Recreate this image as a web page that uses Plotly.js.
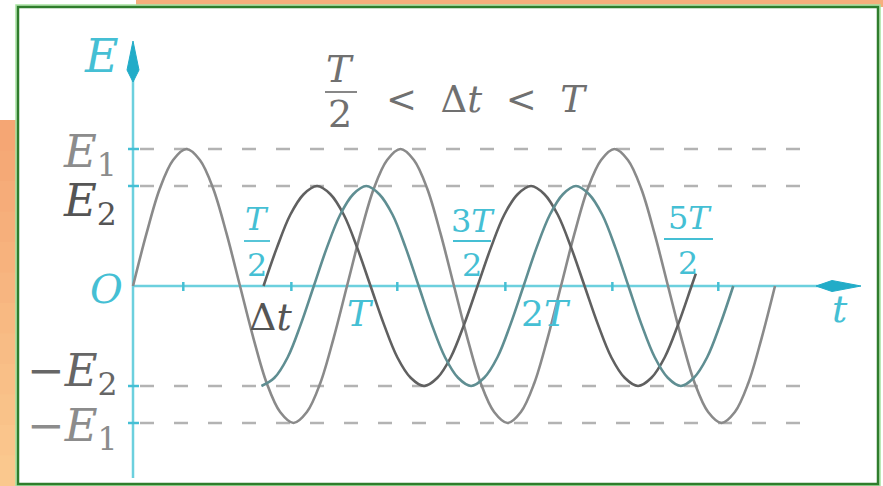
<!DOCTYPE html>
<html>
<head>
<meta charset="utf-8">
<script src="https://cdn.plot.ly/plotly-3.0.1.min.js"></script>
<style>
  html, body { margin: 0; padding: 0; background: #ffffff; overflow: hidden; }
  #chart { width: 883px; height: 486px; }
</style>
</head>
<body>
<div id="chart"></div>
<script>
// ---- Data: time in periods T, EMF in units of E1 ----
const levelNames  = ['E1', 'E2', '-E2', '-E1'];
const levelValues = [1, 0.73, -0.73, -1];

// first EMF, amplitude E1, starting at t = 0
const waveE1_t = [0, 0.0625, 0.125, 0.1875, 0.25, 0.3125, 0.375, 0.4375,
                  0.5, 0.5625, 0.625, 0.6875, 0.75, 0.8125, 0.875, 0.9375,
                  1, 1.0625, 1.125, 1.1875, 1.25, 1.3125, 1.375, 1.4375,
                  1.5, 1.5625, 1.625, 1.6875, 1.75, 1.8125, 1.875, 1.9375,
                  2, 2.0625, 2.125, 2.1875, 2.25, 2.3125, 2.375, 2.4375,
                  2.5, 2.5625, 2.625, 2.6875, 2.75, 2.8125, 2.875, 2.9375, 3];
const waveE1_e = [0, 0.38, 0.71, 0.92, 1, 0.92, 0.71, 0.38,
                  0, -0.38, -0.71, -0.92, -1, -0.92, -0.71, -0.38,
                  0, 0.38, 0.71, 0.92, 1, 0.92, 0.71, 0.38,
                  0, -0.38, -0.71, -0.92, -1, -0.92, -0.71, -0.38,
                  0, 0.38, 0.71, 0.92, 1, 0.92, 0.71, 0.38,
                  0, -0.38, -0.71, -0.92, -1, -0.92, -0.71, -0.38, 0];

// second EMF, amplitude E2, rising from zero at Δt
const waveE2a_t = [0.61, 0.6725, 0.735, 0.7975, 0.86, 0.9225, 0.985, 1.0475,
                   1.11, 1.1725, 1.235, 1.2975, 1.36, 1.4225, 1.485, 1.5475,
                   1.61, 1.6725, 1.735, 1.7975, 1.86, 1.9225, 1.985, 2.0475,
                   2.11, 2.1725, 2.235, 2.2975, 2.36, 2.4225, 2.485, 2.5475,
                   2.61, 2.63];
const waveE2a_e = [0, 0.28, 0.52, 0.67, 0.73, 0.67, 0.52, 0.28,
                   0, -0.28, -0.52, -0.67, -0.73, -0.67, -0.52, -0.28,
                   0, 0.28, 0.52, 0.67, 0.73, 0.67, 0.52, 0.28,
                   0, -0.28, -0.52, -0.67, -0.73, -0.67, -0.52, -0.28,
                   0, 0.09];

// third EMF, amplitude E2, rising from -E2 at Δt
const waveE2b_t = [0.600, 0.661, 0.723, 0.784, 0.845, 0.906, 0.968, 1.029,
                   1.090, 1.151, 1.213, 1.274, 1.335, 1.396, 1.458, 1.519,
                   1.580, 1.641, 1.703, 1.764, 1.825, 1.886, 1.948, 2.009,
                   2.070, 2.131, 2.193, 2.254, 2.315, 2.376, 2.438, 2.499,
                   2.560, 2.621, 2.683, 2.744, 2.805];
const waveE2b_e = [-0.73, -0.67, -0.52, -0.28, 0, 0.28, 0.52, 0.67,
                   0.73, 0.67, 0.52, 0.28, 0, -0.28, -0.52, -0.67,
                   -0.73, -0.67, -0.52, -0.28, 0, 0.28, 0.52, 0.67,
                   0.73, 0.67, 0.52, 0.28, 0, -0.28, -0.52, -0.67,
                   -0.73, -0.67, -0.52, -0.28, 0];

// small marks along the t axis
const axisTicks_t = [0.235, 0.74, 1.235, 1.74, 2.24, 2.735];

// ---- Geometry ----
const W = 883, H = 486;
const OX = 133, OY = 286;          // origin in pixels
const PX_T = 214, PX_E = 137;      // pixels per period, pixels per E1
const dx = px => (px - OX) / PX_T;
const dy = py => (OY - py) / PX_E;
const fx = px => px / W;
const fy = py => 1 - py / H;

const CYAN = '#45bfd4';
const CYAN_DARK = '#22acc8';
const SERIF = 'DejaVu Serif, Liberation Serif, serif';

const shapes = [];

// page frame
shapes.push({type: 'rect', xref: 'paper', yref: 'paper', x0: fx(136), x1: 1, y0: fy(7), y1: 1,
             fillcolor: '#f6af7c', line: {width: 0}, layer: 'below'});
const bands = 12;
for (let i = 0; i < bands; i++) {
  const y0 = 120 + (H - 120) * i / bands, y1 = 120 + (H - 120) * (i + 1) / bands + 1.5;
  const f = i / (bands - 1);
  const r = Math.round(245 + (250 - 245) * f), g = Math.round(166 + (200 - 166) * f), b = Math.round(116 + (142 - 116) * f);
  shapes.push({type: 'rect', xref: 'paper', yref: 'paper', x0: 0, x1: fx(17), y0: fy(Math.min(y1, H)), y1: fy(y0),
               fillcolor: `rgb(${r},${g},${b})`, line: {width: 0}, layer: 'below'});
}
shapes.push({type: 'rect', xref: 'paper', yref: 'paper', x0: fx(16), x1: fx(880), y0: fy(485.5), y1: fy(5),
             fillcolor: '#ffffff', line: {color: '#a6e3a0', width: 1.5}, layer: 'below'});
shapes.push({type: 'rect', xref: 'paper', yref: 'paper', x0: fx(18), x1: fx(878), y0: fy(484), y1: fy(7),
             fillcolor: 'rgba(0,0,0,0)', line: {color: '#2f7d2c', width: 2.5}, layer: 'below'});

// dashed level lines
levelValues.forEach(v => {
  shapes.push({type: 'line', xref: 'x', yref: 'y', x0: dx(140), x1: dx(806), y0: v, y1: v,
               line: {color: '#b3b3b3', width: 2.5, dash: '14px,20px'}, layer: 'below'});
});

// axes
shapes.push({type: 'line', xref: 'x', yref: 'y', x0: 0, x1: dx(824), y0: 0, y1: 0,
             line: {color: '#6cd0de', width: 2.5}, layer: 'below'});
shapes.push({type: 'line', xref: 'x', yref: 'y', x0: 0, x1: 0, y0: dy(478), y1: dy(76),
             line: {color: '#6cd0de', width: 2.5}, layer: 'below'});
shapes.push({type: 'path', xref: 'x', yref: 'y', layer: 'below',
             path: `M ${dx(816)},0 L ${dx(832)},${dy(280.5)} L ${dx(861)},0 L ${dx(832)},${dy(291.5)} Z`,
             fillcolor: CYAN_DARK, line: {color: CYAN_DARK, width: 1}});
shapes.push({type: 'path', xref: 'x', yref: 'y', layer: 'below',
             path: `M 0,${dy(41)} L ${dx(139)},${dy(70)} L 0,${dy(82)} L ${dx(127)},${dy(70)} Z`,
             fillcolor: CYAN_DARK, line: {color: CYAN_DARK, width: 1}});

// ticks
levelValues.forEach(v => {
  shapes.push({type: 'line', xref: 'x', yref: 'y', x0: dx(128), x1: dx(139), y0: v, y1: v,
               line: {color: CYAN, width: 2.5}, layer: 'below'});
});
axisTicks_t.forEach(t => {
  shapes.push({type: 'line', xref: 'x', yref: 'y', x0: t, x1: t, y0: dy(282), y1: dy(291),
               line: {color: CYAN, width: 2.5}, layer: 'below'});
});

// fraction bars
function bar(x0, x1, y, color) {
  shapes.push({type: 'line', xref: 'paper', yref: 'paper', x0: fx(x0), x1: fx(x1), y0: fy(y), y1: fy(y),
               line: {color: color, width: 1.8}});
}
bar(325, 357, 92, '#7a7a7a');
bar(244, 270, 241, CYAN);
bar(453, 491, 241, CYAN);
bar(664, 713, 239, CYAN);

// ---- Text ----
const annotations = [];
function txt(html, px, py, size, color, anchor) {
  annotations.push({xref: 'paper', yref: 'paper', x: fx(px), y: fy(py), text: html,
                    showarrow: false, xanchor: anchor || 'center', yanchor: 'middle',
                    font: {family: SERIF, size: size, color: color}});
}

// title
txt('<i>T</i>', 340, 69, 38, '#707070');
txt('2', 340, 114, 38, '#707070');
txt('<  Δ<i>t</i>  <  <i>T</i>', 384, 99, 37, '#707070', 'left');

// axis names
txt('<i>E</i>', 101, 56, 46, CYAN);
txt('<i>O</i>', 106, 289, 40, CYAN);
txt('<i>t</i>', 840, 309, 38, CYAN);

// level labels
txt('<i>E</i><sub>1</sub>', 90, 154, 45, '#8c8c8c');
txt('<i>E</i><sub>2</sub>', 90, 203, 45, '#555555');
txt('−<i>E</i><sub>2</sub>', 72, 373, 45, '#666666');
txt('−<i>E</i><sub>1</sub>', 72, 428, 45, '#8c8c8c');

// time labels
txt('<i>T</i>', 257, 219, 32, CYAN);
txt('2', 257, 265, 32, CYAN);
txt('3<i>T</i>', 473, 221, 32, CYAN);
txt('2', 472, 265, 32, CYAN);
txt('5<i>T</i>', 690, 218, 32, CYAN);
txt('2', 688, 263, 32, CYAN);
txt('<i>T</i>', 360, 313, 36, CYAN);
txt('2<i>T</i>', 546, 313, 36, CYAN);
txt('Δ<i>t</i>', 270, 317, 38, '#555555');

// ---- Traces ----
const traces = [
  {x: waveE1_t, y: waveE1_e, type: 'scatter', mode: 'lines', name: 'E1',
   line: {color: '#8a8a8a', width: 2.6, shape: 'spline', smoothing: 1}, hoverinfo: 'skip'},
  {x: waveE2a_t, y: waveE2a_e, type: 'scatter', mode: 'lines', name: 'E2',
   line: {color: '#606060', width: 2.6, shape: 'spline', smoothing: 1}, hoverinfo: 'skip'},
  {x: waveE2b_t, y: waveE2b_e, type: 'scatter', mode: 'lines', name: 'E2 shifted',
   line: {color: '#5f8e92', width: 2.6, shape: 'spline', smoothing: 1}, hoverinfo: 'skip'}
];

const layout = {
  width: W, height: H,
  margin: {l: 0, r: 0, t: 0, b: 0, pad: 0},
  paper_bgcolor: '#ffffff',
  plot_bgcolor: 'rgba(0,0,0,0)',
  showlegend: false,
  xaxis: {range: [dx(0), dx(W)], visible: false, fixedrange: true},
  yaxis: {range: [dy(H), dy(0)], visible: false, fixedrange: true},
  shapes: shapes,
  annotations: annotations
};

Plotly.newPlot('chart', traces, layout, {displayModeBar: false, staticPlot: true});
</script>
</body>
</html>
